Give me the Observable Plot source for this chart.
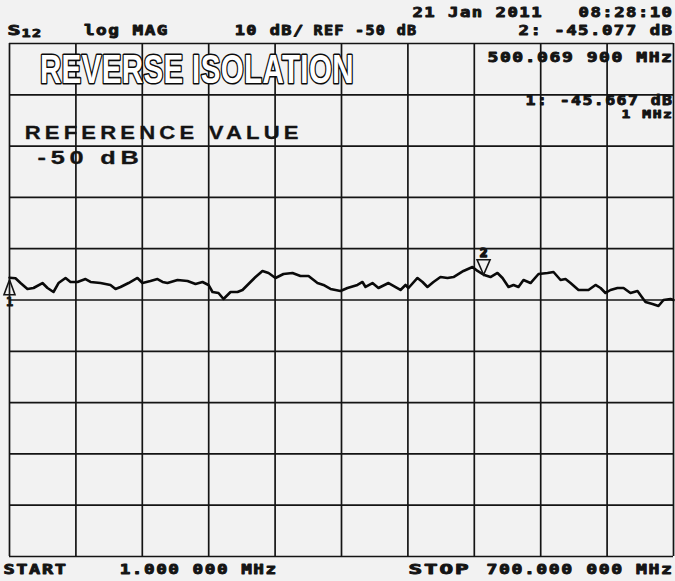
<!DOCTYPE html>
<html><head><meta charset="utf-8">
<script src="https://cdn.jsdelivr.net/npm/d3@7"></script>
<script src="https://cdn.jsdelivr.net/npm/@observablehq/plot@0.6"></script>
<style>
html,body{margin:0;padding:0;background:#f2f2f2;}
#chart svg{display:block;background:#f2f2f2;}
</style></head><body><div id="chart"></div>
<script>
// ---- data ----
const freqMHz = [1,7.3,12.6,19.9,26.3,35.7,41.0,47.3,52.6,60.0,65.2,72.6,81.0,86.3,96.8,107.3,112.6,117.9,126.3,135.7,141.0,149.4,156.8,162.1,167.3,177.9,188.4,196.8,204.2,210.5,214.7,221.0,226.3,233.7,241.0,246.3,254.7,260.0,267.3,273.7,281.0,289.4,298.9,307.3,315.8,325.2,331.5,338.9,349.4,356.8,367.3,372.6,375.8,383.1,389.4,400.0,412.6,417.9,421.0,430.5,435.8,441.0,447.3,454.7,462.1,468.4,478.9,488.4,493.7,500.069,507.3,514.7,520.0,526.3,531.6,536.8,542.1,549.5,557.9,567.4,573.7,581.1,586.3,591.6,600.0,610.5,617.9,623.2,628.4,633.7,641.0,647.4,654.7,662.1,670.5,677.9,684.2,689.5,696.9,700];
const isolationDb = [-45.667,-45.77,-46.69,-47.86,-47.66,-46.69,-47.66,-48.44,-46.69,-45.71,-46.49,-46.49,-45.91,-46.49,-46.69,-47.07,-47.85,-47.46,-46.69,-45.71,-46.69,-46.30,-45.91,-46.49,-46.69,-46.10,-46.30,-46.88,-46.49,-47.07,-48.44,-48.63,-49.80,-48.44,-48.44,-48.05,-46.49,-45.52,-44.34,-44.73,-45.71,-44.93,-44.73,-45.32,-45.32,-46.69,-47.07,-47.85,-48.24,-47.66,-47.07,-46.49,-47.46,-46.69,-47.66,-46.69,-48.05,-47.07,-47.66,-45.71,-46.49,-47.46,-46.49,-45.52,-45.71,-45.52,-44.34,-43.57,-44.34,-45.077,-45.52,-44.73,-45.71,-47.46,-47.07,-47.46,-46.10,-46.69,-44.93,-44.73,-44.54,-46.10,-45.91,-46.69,-48.05,-48.05,-47.07,-47.66,-48.63,-48.05,-47.66,-47.66,-48.63,-48.24,-50.39,-50.78,-51.17,-50.00,-49.80,-50.0];
const gridFreqs = [1,70.9,140.8,210.7,280.6,350.5,420.4,490.3,560.2,630.1,700];
const gridDb = [0,-10,-20,-30,-40,-50,-60,-70,-80,-90,-100];
const markerFreq = [1, 500.069];
const markerDb = [-45.667, -45.077];
const markerName = ["1", "2"];
const titleText = "REVERSE ISOLATION";
const headerDate = "21 Jan 2011   08:28:10";
const headerParam = "S";
const headerParamSub = "12";
const headerFormat = "log MAG";
const headerScale = "10 dB/";
const headerRef = "REF -50 dB";
const marker2Value = "2: -45.077 dB";
const marker2Freq = "500.069 900 MHz";
const marker1Value = "1: -45.667 dB";
const marker1Freq = "1 MHz";
const refNote1 = "REFERENCE VALUE";
const refNote2 = "-50 dB";
const startLabel = "START";
const startValue = "1.000 000 MHz";
const stopLabel = "STOP";
const stopValue = "700.000 000 MHz";

// ---- chart ----
const trace = freqMHz.map((f, i) => ({f, db: isolationDb[i]}));
const markers = markerFreq.map((f, i) => ({f, db: markerDb[i], name: markerName[i]}));

const ink = "#141414";
const mono = "DejaVu Sans Mono";
const fits = new Map();
function label(text, x, y, opts, width, spacing) {
  fits.set(text, [width, spacing == null ? 1.2 : spacing]);
  return Plot.text([text], Object.assign({
    x: () => x, y: () => y, text: d => d,
    fill: ink, stroke: ink, strokeWidth: 0.9, fontFamily: mono, fontWeight: "bold", fontSize: 14,
    textAnchor: "start", lineAnchor: "middle"
  }, opts));
}

const triUp = {draw(ctx) { ctx.moveTo(0, 2); ctx.lineTo(-5.5, 17); ctx.lineTo(5.5, 17); ctx.closePath(); }};
const triDown = {draw(ctx) { ctx.moveTo(0, 0); ctx.lineTo(-6.5, -15); ctx.lineTo(6.5, -15); ctx.closePath(); }};

const chart = Plot.plot({
  width: 675, height: 581,
  marginTop: 43, marginRight: 2, marginBottom: 25, marginLeft: 9,
  style: {background: "#f2f2f2", overflow: "visible"},
  x: {domain: [1, 700], axis: null},
  y: {domain: [-100, 0], axis: null},
  marks: [
    Plot.ruleX(gridFreqs, {stroke: ink, strokeWidth: 1.7}),
    Plot.ruleY(gridDb, {stroke: ink, strokeWidth: 1.7}),
    Plot.line(trace, {x: "f", y: "db", stroke: "#0a0a0a", strokeWidth: 2.6, strokeLinejoin: "round", curve: "linear"}),
    Plot.dot([markers[0]], {x: "f", y: "db", symbol: triUp, r: 5, stroke: ink, strokeWidth: 1.6, fill: "none"}),
    Plot.dot([markers[1]], {x: "f", y: "db", symbol: triDown, r: 5, stroke: ink, strokeWidth: 1.6, fill: "#f2f2f2"}),
    Plot.text([markers[0]], {x: "f", y: "db", text: "name", dy: 24, fill: ink, stroke: ink, strokeWidth: 0.8, fontFamily: mono, fontWeight: "bold", fontSize: 12}),
    Plot.text([markers[1]], {x: "f", y: "db", text: "name", dy: -22, fill: ink, stroke: ink, strokeWidth: 1.6, fontFamily: mono, fontWeight: "bold", fontSize: 13}),
    // header
    label(headerDate, 700, 6.0, {textAnchor: "end"}, 261),
    label(headerParam, 1, 2.6, {dx: -2, fontSize: 14.5}, 13, 0),
    label(headerParamSub, 1, 2.6, {dx: 12, dy: 3, fontSize: 11}, 21, 1),
    label(headerFormat, 79.4, 2.55, {}, 85),
    label(headerScale, 238, 2.55, {}, 70),
    label(headerRef, 321, 2.55, {}, 104),
    label(marker2Value, 700, 2.55, {textAnchor: "end"}, 155),
    // inside grid
    label(marker2Freq, 700, -2.75, {textAnchor: "end"}, 186),
    label(marker1Value, 700, -11.1, {textAnchor: "end"}, 148),
    label(marker1Freq, 700, -13.9, {textAnchor: "end", fontSize: 11}, 52),
    label(titleText, 33, -5.2, {fontFamily: "Liberation Sans", fontSize: 40, fill: "white", stroke: "#0a0a0a", strokeWidth: 3.2}, 314, 0.5),
    label(refNote1, 17, -17.4, {fontFamily: "Liberation Sans", fontSize: 18.5, strokeWidth: 0.3}, 278, 3.5),
    label(refNote2, 30.5, -22.3, {fontFamily: "Liberation Sans", fontSize: 18.5, strokeWidth: 0.3}, 106, 3.5),
    // footer
    label(startLabel, -5.3, -102.5, {}, 64),
    label(startValue, 117, -102.5, {}, 158),
    label(stopLabel, 421, -102.5, {}, 62),
    label(stopValue, 700, -102.5, {textAnchor: "end"}, 187)
  ]
});
document.getElementById("chart").appendChild(chart);
for (const t of chart.querySelectorAll("text")) {
  const f = fits.get(t.textContent);
  if (f) {
    t.style.letterSpacing = f[1] + "px";
    t.setAttribute("textLength", f[0]);
    t.setAttribute("lengthAdjust", "spacingAndGlyphs");
  }
}
</script></body></html>
